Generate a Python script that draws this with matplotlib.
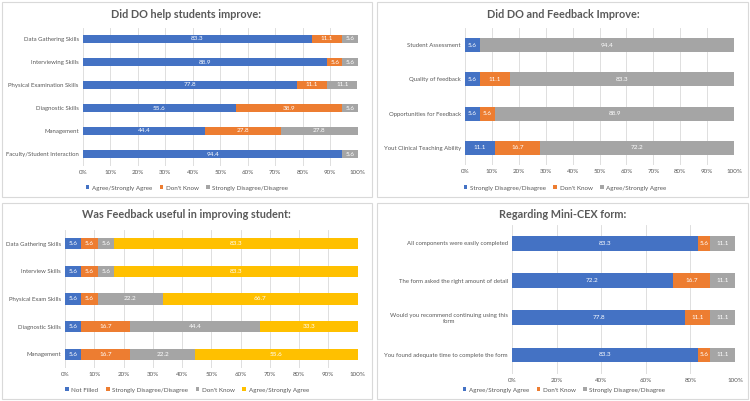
import matplotlib
matplotlib.use("Agg")
import matplotlib.pyplot as plt
from matplotlib.patches import Patch, Rectangle

plt.rcParams['font.family'] = ['Lato', 'DejaVu Sans']

BLUE = '#4472C4'
ORANGE = '#ED7D31'
GRAY = '#A5A5A5'
YELLOW = '#FFC000'
TXT = '#595959'

# Panel 1
p1_title = "Did DO help students improve:"
p1_cats = ["Data Gathering Skills", "Interviewing Skills", "Physical Examination Skills",
           "Diagnostic Skills", "Management", "Faculty/Student Interaction"]
p1_series = ["Agree/Strongly Agree", "Don't Know", "Strongly Disagree/Disagree"]
p1_agree = [83.3, 88.9, 77.8, 55.6, 44.4, 94.4]
p1_dk = [11.1, 5.6, 11.1, 38.9, 27.8, 0]
p1_dis = [5.6, 5.6, 11.1, 5.6, 27.8, 5.6]

# Panel 2
p2_title = "Did DO and Feedback Improve:"
p2_cats = ["Student Assessment", "Quality of feedback", "Opportunities for Feedback",
           "Yout Clinical Teaching Ability"]
p2_series = ["Strongly Disagree/Disagree", "Don't Know", "Agree/Strongly Agree"]
p2_dis = [5.6, 5.6, 5.6, 11.1]
p2_dk = [0, 11.1, 5.6, 16.7]
p2_agree = [94.4, 83.3, 88.9, 72.2]

# Panel 3
p3_title = "Was Feedback useful in improving student:"
p3_cats = ["Data Gathering Skills", "Interview Skills", "Physical Exam Skills",
           "Diagnostic Skills", "Management"]
p3_series = ["Not Filled", "Strongly Disagree/Disagree", "Don't Know", "Agree/Strongly Agree"]
p3_nf = [5.6, 5.6, 5.6, 5.6, 5.6]
p3_dis = [5.6, 5.6, 5.6, 16.7, 16.7]
p3_dk = [5.6, 5.6, 22.2, 44.4, 22.2]
p3_agree = [83.3, 83.3, 66.7, 33.3, 55.6]

# Panel 4
p4_title = "Regarding Mini-CEX form:"
p4_cats = ["All components were easily completed", "The form asked the right amount of detail",
           "Would you recommend continuing using this\nform", "You found adequate time to complete the form"]
p4_series = ["Agree/Strongly Agree", "Don't Know", "Strongly Disagree/Disagree"]
p4_agree = [83.3, 72.2, 77.8, 83.3]
p4_dk = [5.6, 16.7, 11.1, 5.6]
p4_dis = [11.1, 11.1, 11.1, 11.1]

W, H = 750, 401
fig = plt.figure(figsize=(W / 100, H / 100), dpi=100)
fig.patch.set_facecolor('white')

LBL = 4.3
TCK = 4.5
LEG = 4.5


def rect(x0, y0, x1, y1):
    return [x0 / W, 1 - y1 / H, (x1 - x0) / W, (y1 - y0) / H]


def border(x0, y0, x1, y1):
    fig.patches.append(Rectangle((x0 / W, 1 - y1 / H), (x1 - x0) / W, (y1 - y0) / H,
                                 transform=fig.transFigure, fill=False,
                                 edgecolor='#D9D9D9', linewidth=0.8))


def panel(box, cats, series_names, series_vals, colors, title, title_xy, legend_xy,
          ticks, bar_h=0.4, colsp=1.2):
    ax = fig.add_axes(rect(*box))
    n = len(cats)
    y = list(range(n))
    left = [0.0] * n
    for name, vals, col in zip(series_names, series_vals, colors):
        bars = ax.barh(y, vals, left=left, height=bar_h, color=col, label=name, zorder=3)
        for b, v in zip(bars, vals):
            if v > 0:
                ax.text(b.get_x() + b.get_width() / 2, b.get_y() + b.get_height() / 2,
                        f"{v:.1f}", ha='center', va='center', color='white',
                        fontsize=4.6, zorder=4)
        left = [l + v for l, v in zip(left, vals)]
    ax.set_xlim(0, 100)
    ax.set_ylim(n - 0.5, -0.5)
    ax.set_yticks(y)
    ax.set_yticklabels(cats, fontsize=LBL, color=TXT)
    for t in ax.get_yticklabels():
        t.set_multialignment('center')
    ax.set_xticks(ticks)
    ax.set_xticklabels([f"{t}%" for t in ticks], fontsize=TCK, color=TXT)
    ax.tick_params(length=0, pad=3)
    for s in ax.spines.values():
        s.set_visible(False)
    ax.grid(axis='x', color='#D9D9D9', linewidth=0.6, zorder=0)
    ax.set_axisbelow(True)
    ax.set_facecolor('none')
    fig.text(title_xy[0] / W, 1 - title_xy[1] / H, title, ha='center', va='center',
             fontsize=7.8, fontweight='bold', color=TXT)
    handles = [Patch(facecolor=c, label=nm) for nm, c in zip(series_names, colors)]
    fig.legend(handles=handles, loc='center', bbox_to_anchor=(legend_xy[0] / W, 1 - legend_xy[1] / H),
               ncol=len(handles), frameon=False, fontsize=LEG, labelcolor=TXT,
               handlelength=0.6, handleheight=0.6, handletextpad=0.4, columnspacing=colsp)
    return ax


border(2, 2, 372, 197)
border(377, 2, 748, 197)
border(2, 203, 372, 399)
border(377, 203, 748, 399)

ticks10 = list(range(0, 101, 10))
ticks20 = list(range(0, 101, 20))

panel((83, 27.5, 357.5, 165.5), p1_cats, p1_series, [p1_agree, p1_dk, p1_dis],
      [BLUE, ORANGE, GRAY], p1_title, (186, 14), (187, 188), ticks10, bar_h=0.38)
panel((465, 28, 734, 165), p2_cats, p2_series, [p2_dis, p2_dk, p2_agree],
      [BLUE, ORANGE, GRAY], p2_title, (563, 14), (565, 188), ticks10, bar_h=0.41)
panel((65, 230, 357.5, 368), p3_cats, p3_series, [p3_nf, p3_dis, p3_dk, p3_agree],
      [BLUE, ORANGE, GRAY, YELLOW], p3_title, (186, 215), (187, 390), ticks10, bar_h=0.4)
panel((512, 224.7, 735, 373.6), p4_cats, p4_series, [p4_agree, p4_dk, p4_dis],
      [BLUE, ORANGE, GRAY], p4_title, (563, 215), (564, 390), ticks20, bar_h=0.4)

fig.savefig('out.png', dpi=100)
